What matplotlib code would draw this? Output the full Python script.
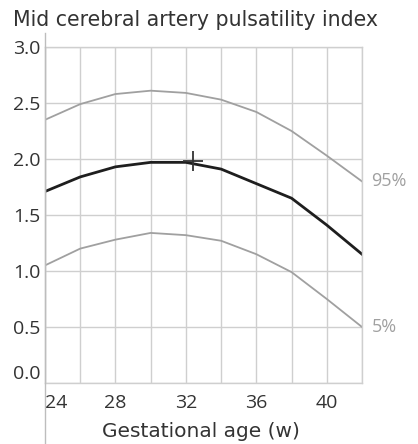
import matplotlib
matplotlib.use('Agg')
import matplotlib.pyplot as plt
from matplotlib.lines import Line2D

# gestational age (weeks) and MCA pulsatility index percentiles
weeks = [24, 26, 28, 30, 32, 34, 36, 38, 40, 42]
p95 = [2.35, 2.49, 2.58, 2.61, 2.59, 2.53, 2.42, 2.25, 2.03, 1.80]
p50 = [1.71, 1.84, 1.93, 1.97, 1.97, 1.91, 1.78, 1.65, 1.41, 1.15]
p5 = [1.05, 1.20, 1.28, 1.34, 1.32, 1.27, 1.15, 0.99, 0.75, 0.50]
marker_pt = (32.4, 1.98)

xticks = [24, 28, 32, 36, 40]
yticks = [0.0, 0.5, 1.0, 1.5, 2.0, 2.5, 3.0]

plt.rcParams['font.family'] = ['Open Sans', 'DejaVu Sans']
txt = '#333333'
grid_c = '#cfcfcf'

W, H = 418, 444
fig = plt.figure(figsize=(W / 100, H / 100), dpi=100)
ax = fig.add_axes([45 / W, 1 - 383 / H, 317 / W, 336 / H])

ax.plot(weeks, p95, color='#a0a0a0', lw=1.3)
ax.plot(weeks, p5, color='#a0a0a0', lw=1.3)
ax.plot(weeks, p50, color='#1e1e1e', lw=2.0)
ax.plot(*marker_pt, marker='+', color='#333333', ms=14, mew=1.3)

ax.set_xlim(24, 42)
ax.set_ylim(0, 3)
ax.set_xticks(range(24, 43, 2))
ax.set_xticklabels([str(w) if w in xticks else '' for w in range(24, 43, 2)])
ax.set_yticks(yticks)
ax.set_yticklabels([f'{v:.1f}' for v in yticks])
ax.grid(True, color=grid_c, lw=1)
ax.tick_params(length=0, labelsize=14, labelcolor=txt, pad=3)
ax.tick_params(axis='x', pad=8)
for s in ax.spines.values():
    s.set_color(grid_c)
    s.set_linewidth(1)

# first x label sits to the right of the axis, 0.0 sits above the baseline
ax.get_xticklabels()[0].set_ha('left')
ax.get_yticklabels()[0].set_va('bottom')

ax.text(1.03, p95[-1] / 3, '95%', transform=ax.transAxes, color='#a0a0a0',
        fontsize=13, va='center', ha='left')
ax.text(1.03, p5[-1] / 3, '5%', transform=ax.transAxes, color='#a0a0a0',
        fontsize=13, va='center', ha='left')

fig.text(13 / W, 1 - 20 / H, 'Mid cerebral artery pulsatility index', fontsize=14.8,
         family='DejaVu Sans', color=txt, va='center', ha='left')
fig.text(201 / W, 1 - 431 / H, 'Gestational age (w)', fontsize=14.5,
         family='DejaVu Sans', color=txt, va='center', ha='center')

fig.add_artist(Line2D([45 / W, 45 / W], [0, 1 - 33 / H], transform=fig.transFigure,
                      color='#bdbdbd', lw=1))

fig.savefig('out.png', dpi=100)
